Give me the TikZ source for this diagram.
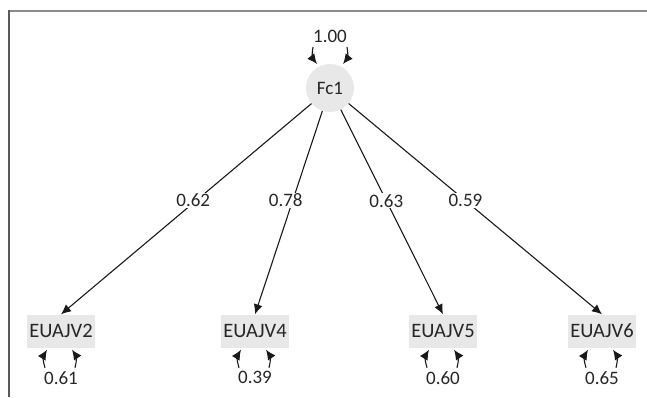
\documentclass[tikz,border=0pt]{standalone}
\usepackage{fontspec}
\setmainfont{Carlito}
\usetikzlibrary{arrows.meta,calc}
\begin{document}
\begin{tikzpicture}[x=1pt,y=-1pt,
  every node/.style={font=\fontsize{19}{22}\selectfont,text=black!85},
  latent/.style={circle,fill=black!9,minimum size=48pt,inner sep=0pt},
  manifest/.style={rectangle,fill=black!9,minimum height=33pt,inner xsep=2.5pt,inner ysep=0pt,
    font=\fontsize{20.5}{24}\selectfont},
  tip/.style={-{Latex[length=10pt,width=9pt]}},
  load/.style={draw=black!90,line width=1.1pt,tip},
  resid/.style={draw=black!90,line width=1.1pt,tip},
  wlabel/.style={fill=white,inner sep=1pt},
  frameline/.style={line width=2pt},
]
\useasboundingbox (0,0) rectangle (647,397);

% frame
\draw[frameline,draw=black!45] (9,10.5) -- (647,10.5);
\draw[frameline,draw=black!65] (9,9.5) -- (9,397);

% factor and indicators
\node[latent] (fc) at (330,88) {Fc1};
\node[manifest] (v2) at (61,331) {EUAJV2};
\node[manifest] (v4) at (255,331) {EUAJV4};
\node[manifest] (v5) at (443,331) {EUAJV5};
\node[manifest] (v6) at (602,331) {EUAJV6};

% factor variance
\node (fcvar) at (330,36) {1.00};
\draw[resid] ($(fc.center)+(-17,-41)$) to[bend right=25] ($(fc.center)+(-13,-24)$);
\draw[resid] ($(fc.center)+(17,-41)$) to[bend left=25] ($(fc.center)+(13,-24)$);

% loadings
\draw[load] (fc) -- node[wlabel,pos=0.46,xshift=-3pt] {0.62} (v2.north);
\draw[load] (fc) -- node[wlabel,pos=0.44,xshift=-7pt] {0.78} (v4.north);
\draw[load] (fc) -- node[wlabel,pos=0.445] {0.63} (v5.north);
\draw[load] (fc) -- node[wlabel,pos=0.461] {0.59} (v6.north);

% residual variances
\foreach \v/\val in {v2/0.61, v4/0.39, v5/0.60, v6/0.65}{
  \node (\v res) at ($(\v.south)+(0,30)$) {\val};
  \draw[resid] ($(\v.south)+(-16,20)$) to[bend left=25] ($(\v.south)+(-14,2)$);
  \draw[resid] ($(\v.south)+(14,20)$) to[bend right=25] ($(\v.south)+(11,2)$);
}
\end{tikzpicture}
\end{document}
